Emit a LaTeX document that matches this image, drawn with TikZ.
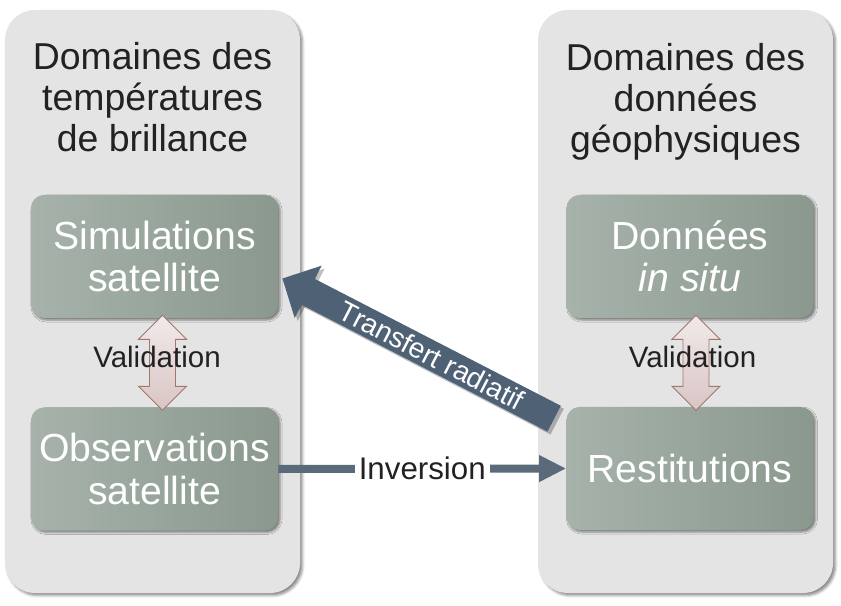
\documentclass[tikz,border=0pt]{standalone}
\usepackage{fontspec}
\setmainfont{Liberation Sans}
\usepackage{tikz}
\usetikzlibrary{arrows.meta,calc,shadows.blur}
\usepackage{xcolor}
\definecolor{panelgray}{HTML}{E3E4E3}
\definecolor{boxlight}{HTML}{A7B3AA}
\definecolor{boxdark}{HTML}{8A988E}
\definecolor{invblue}{HTML}{5A6A7B}
\definecolor{transblue}{HTML}{4F6175}
\definecolor{valtop}{HTML}{F1EAEA}
\definecolor{valbot}{HTML}{D8C5C4}
\definecolor{valdraw}{HTML}{A3766F}
\definecolor{txtdark}{HTML}{222222}

\tikzset{
  panel/.style={fill=panelgray, rounded corners=6mm, inner sep=0pt,
    blur shadow={shadow xshift=0.5mm, shadow yshift=-0.5mm, shadow opacity=45, shadow blur radius=0.5mm}},
  title/.style={text=txtdark, align=center, inner sep=0pt, font=\fontsize{21.3}{23.3}\selectfont},
  box/.style={rounded corners=2.6mm, minimum width=49.4mm, minimum height=24.6mm, inner sep=0pt,
    left color=boxlight, right color=boxdark, text=white, align=center,
    font=\fontsize{22.3}{24}\selectfont,
    blur shadow={shadow xshift=0.4mm, shadow yshift=-0.4mm, shadow opacity=45, shadow blur radius=0.4mm}},
  valid/.style={top color=valtop, bottom color=valbot, draw=valdraw, line width=0.5pt, line join=miter},
  vallab/.style={text=txtdark, inner sep=0pt, font=\fontsize{16.8}{17}\selectfont},
  inv/.style={invblue, line width=1.6mm, -{Triangle[width=5mm, length=5.4mm]}},
  transfer/.style={transblue, line width=5.8mm, -{Triangle[width=11.4mm, length=5.8mm]}}
}

\begin{document}
\begin{tikzpicture}[x=0.2mm, y=-0.2mm]
        \useasboundingbox (0,0) rectangle (841,606);
        % the two domains
        \node[panel, minimum width=59mm, minimum height=116.6mm] (domTB) at (152.5,301.5) {};
        \node[panel, minimum width=59mm, minimum height=116.6mm] (domGP) at (685.5,301.5) {};
        \node[title] (titleTB) at (152.5, 97.5) {Domaines des\\temp\'eratures\\de brillance};
        \node[title] (titleGP) at (685.5, 101.5) {Domaines des\\donn\'ees\\g\'eophysiques};
        % boxes
        \node[box] (simTB) at (154.5, 256.5) {Simulations\\satellite};
        \node[box] (obsTB) at (154.5, 469) {Observations\\satellite};
        \node[box] (insituGP) at (690, 256.5) {Donn\'ees\\\textit{in situ}};
        \node[box] (restGP) at (690, 468.5) {Restitutions};
        % validation arrows
        \draw[valid] ($(simTB.south)+(8,-3)$) -- ++(24,24) -- ++(-11,0) -- ++(0,47) -- ++(11,0)
            -- ++(-24,24) -- ++(-24,-24) -- ++(11,0) -- ++(0,-47) -- ++(-11,0) -- cycle;
        \draw[valid] ($(insituGP.south)+(6,-3)$) -- ++(24,24) -- ++(-11,0) -- ++(0,47) -- ++(11,0)
            -- ++(-24,24) -- ++(-24,-24) -- ++(11,0) -- ++(0,-47) -- ++(-11,0) -- cycle;
        \node[vallab] (valTB) at (157, 357) {Validation};
        \node[vallab] (valGP) at (692.5, 357) {Validation};
        % inversion
        \draw[inv] (obsTB.east) -- node[fill=white, text=txtdark, inner xsep=0.8mm, font=\fontsize{17.8}{18}\selectfont] (invlab) {Inversion} (restGP.west);
        % transfert radiatif
        \draw[transfer, black, opacity=0.25, transform canvas={xshift=0.6mm, yshift=-0.6mm}]
            ($(restGP.north west)+(-12,12)$) -- ($(simTB.east)+(4,22)$);
        \draw[transfer] ($(restGP.north west)+(-12,12)$) -- node[pos=0.45, sloped, text=white, font=\fontsize{16}{16}\selectfont] (translab) {Transfert radiatif} ($(simTB.east)+(4,22)$);
    \end{tikzpicture}
\end{document}
